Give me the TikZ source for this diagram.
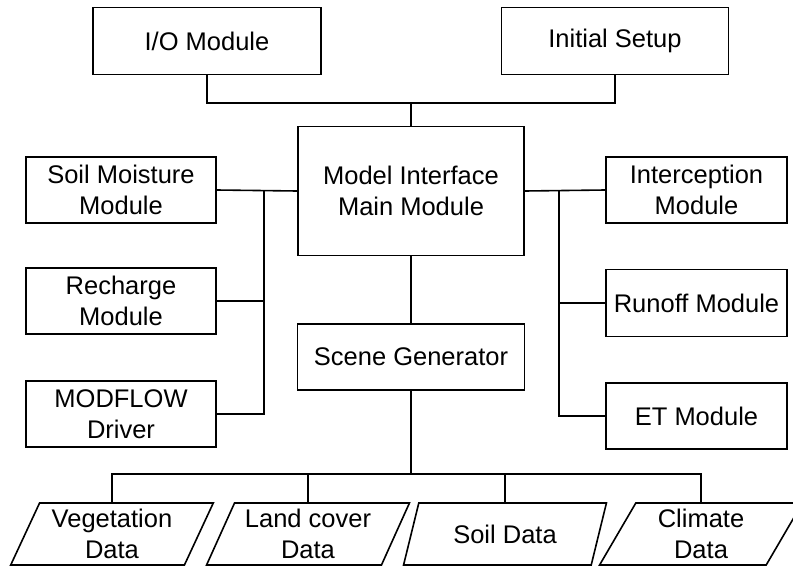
\documentclass[tikz,border=0pt]{standalone}
\usepackage{fontspec}
\setmainfont{Liberation Sans}
\usetikzlibrary{shapes.geometric}
\tikzstyle{mod}=[rectangle,draw,line width=1.6pt,align=center,inner sep=0pt,font=\fontsize{25.5}{30.5}\selectfont]
\tikzstyle{dat}=[trapezium,draw,line width=1.6pt,align=center,inner sep=0pt,trapezium left angle=64,trapezium right angle=116,trapezium stretches=true,minimum width=203pt,minimum height=62pt,font=\fontsize{25.5}{30.5}\selectfont]
\tikzstyle{lnk}=[line width=1.6pt]

\begin{document}
\begin{tikzpicture}[x=1pt,y=-1pt]
\useasboundingbox (0,0) rectangle (793,568);
\node[mod, minimum width=228pt, minimum height=67pt] (io) at (207,41) {I/O Module};
\node[mod, minimum width=227pt, minimum height=67pt] (setup) at (615,41) {Initial Setup};
\node[mod, minimum width=226pt, minimum height=129pt] (main) at (411,191) {Model Interface\\Main Module};
\node[mod, minimum width=190pt, minimum height=66pt] (soil) at (121,190) {Soil Moisture\\Module};
\node[mod, minimum width=190pt, minimum height=66pt] (rech) at (121,301) {Recharge\\Module};
\node[mod, minimum width=190pt, minimum height=66pt] (modf) at (121,414) {MODFLOW\\Driver};
\node[mod, minimum width=227pt, minimum height=66pt] (scene) at (411,357) {Scene Generator};
\node[mod, minimum width=181pt, minimum height=66pt] (intc) at (696.5,190) {Interception\\Module};
\node[mod, minimum width=181pt, minimum height=67pt] (runoff) at (696.5,303) {Runoff Module};
\node[mod, minimum width=181pt, minimum height=66pt] (et) at (696.5,416) {ET Module};
\node[dat] (veg) at (112,534) {Vegetation\\Data};
\node[dat] (land) at (308,534) {Land cover\\Data};
\node[dat] (soildat) at (505,534) {Soil Data};
\node[dat] (clim) at (701,534) {Climate\\Data};
% top junction
\coordinate (topbus) at (411,103);
\draw[lnk] (io.south) |- (topbus) -| (setup.south);
\draw[lnk] (topbus) -- (main.north);
% left bus
\coordinate (lbus) at (264,191);
\draw[lnk] (soil.east) -- (main.west);
\draw[lnk] (lbus) |- (modf.east);
\draw[lnk] (lbus |- rech.east) -- (rech.east);
% right bus
\coordinate (rbus) at (559,191);
\draw[lnk] (main.east) -- (intc.west);
\draw[lnk] (rbus) |- (et.west);
\draw[lnk] (rbus |- runoff.west) -- (runoff.west);
% data bus
\draw[lnk] (main.south) -- (scene.north);
\coordinate (dbus) at (411,474);
\draw[lnk] (scene.south) -- (dbus);
\draw[lnk] (veg.north) |- (dbus) -| (clim.north);
\draw[lnk] (land.north) -- (land.north |- dbus);
\draw[lnk] (soildat.north) -- (soildat.north |- dbus);
\end{tikzpicture}
\end{document}
